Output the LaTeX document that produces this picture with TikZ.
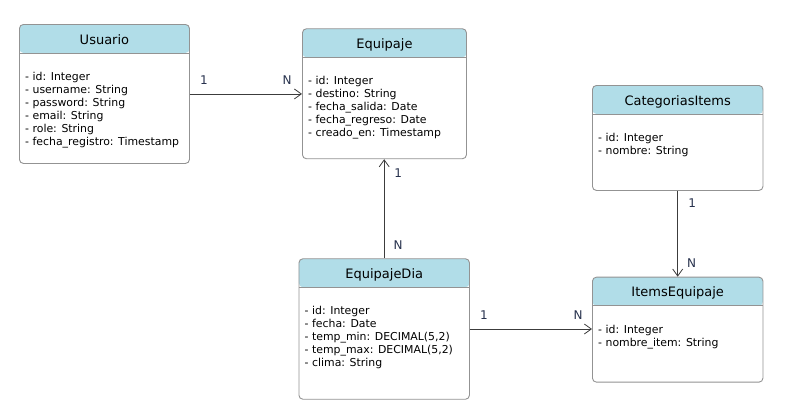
\documentclass[tikz,border=0pt]{standalone}
\usepackage{fontspec}
\setmainfont{DejaVu Sans}
\usetikzlibrary{arrows.meta}

\definecolor{headfill}{HTML}{B1DDE8}
\definecolor{boxline}{HTML}{939393}
\definecolor{relline}{HTML}{3C3C3C}
\definecolor{lblcol}{HTML}{27314D}
\definecolor{txtcol}{HTML}{000000}

\tikzset{
  erbox/.style={draw=boxline, line width=0.9pt, rounded corners=4pt, fill=white,
    anchor=north west, inner sep=0pt,
    path picture={
      \fill[headfill] (path picture bounding box.north west)
        rectangle ([yshift=-28.5pt]path picture bounding box.north east);
      \draw[boxline, line width=0.9pt]
        ([yshift=-28.5pt]path picture bounding box.north west)
        -- ([yshift=-28.5pt]path picture bounding box.north east);
    }},
  ertitle/.style={anchor=base, inner sep=0pt, text=txtcol,
    font=\fontsize{13}{15}\selectfont},
  erattrs/.style={anchor=base west, inner sep=0pt, text=txtcol,
    font=\fontsize{10.9}{13}\selectfont},
  rel/.style={draw=relline, line width=0.9pt,
    -{Straight Barb[length=7pt, width=10pt, line width=0.8pt]}},
  lbl/.style={inner sep=0pt, text=lblcol, font=\fontsize{12}{14}\selectfont}
}

% one entity: name, x, y, width, height, title, attribute lines
\newcommand{\erentity}[7]{%
  \node[erbox, minimum width=#4pt, minimum height=#5pt] (#1) at (#2,#3) {};
  \node[ertitle] (#1-title) at ([yshift=-20pt]#1.north) {#6};
  \node[erattrs] (#1-attrs) at ([xshift=6pt,yshift=-56.5pt]#1.north west)
    {\vtop{\baselineskip=13pt #7}};
}
\newcommand{\fieldline}[1]{\hbox{- #1}}

\begin{document}
\begin{tikzpicture}[x=1pt, y=-1pt]
  \useasboundingbox (0,0) rectangle (795,418);

  \erentity{usuario}{19}{24}{170}{139}{Usuario}{%
    \fieldline{id: Integer}%
    \fieldline{username: String}%
    \fieldline{password: String}%
    \fieldline{email: String}%
    \fieldline{role: String}%
    \fieldline{fecha\_registro: Timestamp}}

  \erentity{equipaje}{302}{28.3}{164}{130}{Equipaje}{%
    \fieldline{id: Integer}%
    \fieldline{destino: String}%
    \fieldline{fecha\_salida: Date}%
    \fieldline{fecha\_regreso: Date}%
    \fieldline{creado\_en: Timestamp}}

  \erentity{categorias}{592}{85}{170.5}{105}{CategoriasItems}{%
    \fieldline{id: Integer}%
    \fieldline{nombre: String}}

  \erentity{equipajedia}{298.5}{258.3}{170.5}{140.5}{EquipajeDia}{%
    \fieldline{id: Integer}%
    \fieldline{fecha: Date}%
    \fieldline{temp\_min: DECIMAL(5,2)}%
    \fieldline{temp\_max: DECIMAL(5,2)}%
    \fieldline{clima: String}}

  \erentity{items}{592}{276.7}{170.5}{105}{ItemsEquipaje}{%
    \fieldline{id: Integer}%
    \fieldline{nombre\_item: String}}

  % relationships with their cardinalities
  \draw[rel] (usuario.east) -- (usuario.east -| equipaje.west)
    node[lbl, pos=0, xshift=14pt, yshift=14pt] {1}
    node[lbl, pos=1, xshift=-15pt, yshift=14pt] {N};

  \draw[rel] (equipajedia.north) -- (equipajedia.north |- equipaje.south)
    node[lbl, pos=0, xshift=14pt, yshift=13pt] {N}
    node[lbl, pos=1, xshift=14pt, yshift=-14pt] {1};

  \draw[rel] (categorias.south) -- (categorias.south |- items.north)
    node[lbl, pos=0, xshift=14.5pt, yshift=-12pt] {1}
    node[lbl, pos=1, xshift=14pt, yshift=14pt] {N};

  \draw[rel] (equipajedia.east) -- (equipajedia.east -| items.west)
    node[lbl, pos=0, xshift=14pt, yshift=14pt] {1}
    node[lbl, pos=1, xshift=-14pt, yshift=14pt] {N};
\end{tikzpicture}
\end{document}
